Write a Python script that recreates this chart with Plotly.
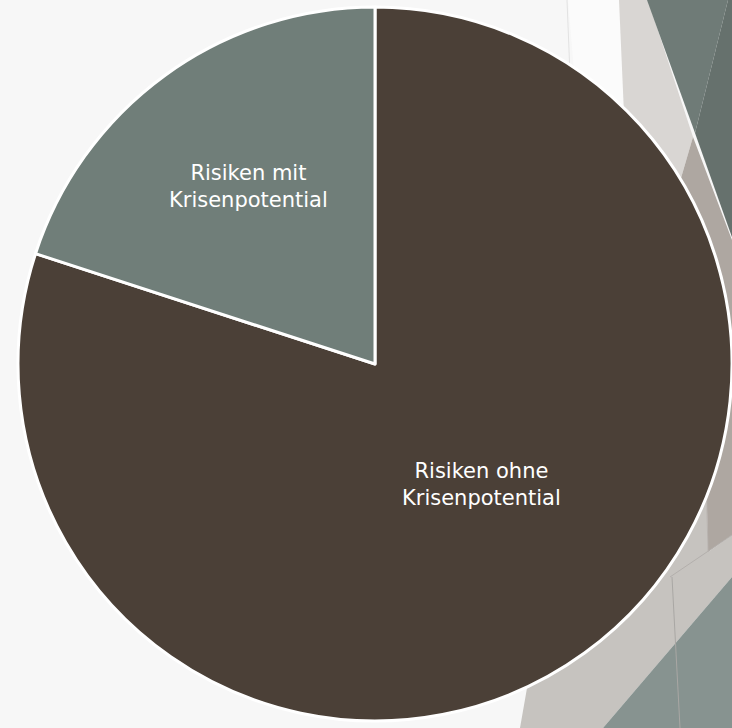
import plotly.graph_objects as go

# ---- data ----
labels = ["Risiken ohne<br>Krisenpotential", "Risiken mit<br>Krisenpotential"]
values = [80, 20]
colors = ["#4B4037", "#707E79"]

W, H = 732, 728
ML = 18

def px2paper(x, y):
    return (x - ML) / (W - ML), 1 - y / H

def P(pts):
    """pixel polygon -> paper-coordinate SVG path"""
    s = ""
    for i, (x, y) in enumerate(pts):
        xp, yp = px2paper(x, y)
        s += ("M" if i == 0 else "L") + f"{xp:.5f},{yp:.5f} "
    return s + "Z"

def L(x0, y0, x1, y1):
    a, b = px2paper(x0, y0)
    c, d = px2paper(x1, y1)
    return dict(x0=a, y0=b, x1=c, y1=d)

bg_polys = [
    ([(568, 0), (619, 0), (640, 160), (585, 200)], "#fbfbfb"),
    ([(619, 0), (648, 0), (693, 137), (660, 250), (630, 250)], "#d9d6d3"),
    ([(693, 137), (732, 240), (732, 535), (708, 552), (706, 470), (660, 250)], "#aea7a1"),
    ([(560, 500), (706, 470), (708, 552), (732, 535), (732, 577), (603, 728), (520, 728)], "#c6c3bf"),
    ([(603, 728), (732, 577), (732, 728)], "#879390"),
    ([(647, 0), (728, 0), (695, 133)], "#6f7b77"),
    ([(728, 0), (733, 0), (733, 240), (695, 133)], "#66716d"),
]

shapes = []
for pts, col in bg_polys:
    shapes.append(dict(type="path", path=P(pts), xref="paper", yref="paper",
                       fillcolor=col, line=dict(width=0), layer="below"))
for (x0, y0, x1, y1, col) in [(567, 0, 575, 200, "#e2e2e2"),
                              (670, 577, 732, 535, "#b3afac"),
                              (672, 577, 680, 728, "#a9a7a4"),
                              (706, 470, 708, 552, "#b8b3af")]:
    d = L(x0, y0, x1, y1)
    d.update(type="line", xref="paper", yref="paper",
             line=dict(color=col, width=1), layer="below")
    shapes.append(d)

fig = go.Figure(go.Pie(
    labels=labels,
    values=values,
    sort=False,
    direction="clockwise",
    rotation=0,
    marker=dict(colors=colors, line=dict(color="white", width=3)),
    textinfo="none",
    hoverinfo="label+percent",
    showlegend=False,
))

# label placement (pixel anchors of the in-slice labels)
label_px = [(481, 484), (248, 186)]
annotations = []
for lab, (x, y) in zip(labels, label_px):
    xp, yp = px2paper(x, y)
    annotations.append(dict(text=lab, x=xp, y=yp, xref="paper", yref="paper",
                            showarrow=False, xanchor="center", yanchor="middle",
                            align="center",
                            font=dict(family="DejaVu Sans", size=21, color="white")))

fig.update_layout(
    width=W, height=H,
    margin=dict(l=ML, r=0, t=0, b=0),
    paper_bgcolor="#f7f7f7",
    shapes=shapes,
    annotations=annotations,
    showlegend=False,
)

fig.write_html("out.html")
